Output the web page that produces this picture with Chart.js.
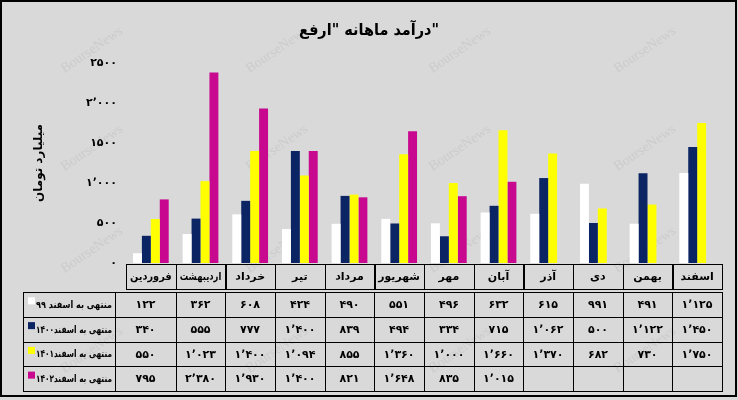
<!DOCTYPE html>
<html>
<head>
<meta charset="utf-8">
<script src="https://cdn.jsdelivr.net/npm/chart.js@4.4.0/dist/chart.umd.min.js"></script>
<style>
body { margin: 0; background: #fff; }
#wrap { width: 738px; height: 400px; }
</style>
</head>
<body>
<div id="wrap"><canvas id="chart1" width="738" height="400"></canvas></div>
<script>
// chart data
const months = ['فروردین', 'اردیبهشت', 'خرداد', 'تیر', 'مرداد', 'شهریور', 'مهر', 'آبان', 'آذر', 'دی', 'بهمن', 'اسفند'];
const seriesNames = ['منتهی به اسفند ۹۹', 'منتهی به اسفند۱۴۰۰', 'منتهی به اسفند۱۴۰۱', 'منتهی به اسفند۱۴۰۲'];
const fy99 = [122, 362, 608, 424, 490, 551, 496, 632, 615, 991, 491, 1125];
const fy1400 = [340, 555, 777, 1400, 839, 494, 334, 715, 1062, 500, 1122, 1450];
const fy1401 = [550, 1023, 1400, 1094, 855, 1360, 1000, 1660, 1370, 682, 730, 1750];
const fy1402 = [795, 2380, 1930, 1400, 821, 1648, 835, 1015, null, null, null, null];
const yTicks = ['۰', '۵۰۰', '۱٬۰۰۰', '۱۵۰۰', '۲٬۰۰۰', '۲۵۰۰'];
const chartTitle = 'درآمد ماهانه "ارفع"';
const yTitle = 'میلیارد تومان';

const series = [fy99, fy1400, fy1401, fy1402];
const barColors = ['#ffffff', '#0b2464', '#ffff00', '#c8088f'];
const FONT = '"DejaVu Sans", sans-serif';

// persian digits + thousands separator
function faNum(v) {
  let s = String(v);
  if (v >= 1000) s = s.slice(0, s.length - 3) + '٬' + s.slice(-3);
  return s.replace(/[0-9]/g, d => '۰۱۲۳۴۵۶۷۸۹'[d]);
}

// background, watermarks, title and the data table
const tablePlugin = {
  id: 'tablePlugin',
  beforeDraw(chart) {
    const c = chart.ctx;
    c.save();
    c.fillStyle = '#d9d9d9';
    c.fillRect(0, 0, chart.width, chart.height);
    c.font = '14px "Liberation Serif", serif';
    c.fillStyle = 'rgba(200,200,200,0.8)';
    c.textAlign = 'center';
    c.textBaseline = 'middle';
    [92, 277, 460, 645].forEach(wx => {
      [50, 148, 250, 350].forEach(wy => {
        c.save();
        c.translate(wx, wy);
        c.rotate(-0.6);
        c.fillText('BourseNews', 0, 0);
        c.restore();
      });
    });
    c.restore();
  },
  afterDraw(chart) {
    const c = chart.ctx;
    const x = chart.scales.x;
    const area = chart.chartArea;
    const colW = (area.right - area.left) / months.length;
    c.save();

    // title
    c.fillStyle = '#000';
    c.font = 'bold 16px ' + FONT;
    c.textAlign = 'center';
    c.textBaseline = 'middle';
    c.fillText(chartTitle, 369, 31, 140);

    // month row
    c.strokeStyle = '#000';
    c.lineWidth = 1;
    c.font = 'bold 11px ' + FONT;
    const catTop = 264, catH = 25;
    months.forEach((m, i) => {
      const cx = x.getPixelForValue(i);
      c.strokeRect(Math.round(cx - colW / 2) + 0.5, catTop + 0.5, Math.round(colW), catH);
      c.fillText(m, cx, catTop + catH / 2 + 1, colW - 8);
    });

    // value table
    const tLeft = 23, legRight = 115, tTop = 292, rowH = 24.75;
    const tBottom = tTop + rowH * series.length;
    const edges = [legRight];
    for (let i = 0; i < months.length - 1; i++) edges.push(Math.round(x.getPixelForValue(i) + colW / 2));
    edges.push(Math.round(area.right));
    c.strokeRect(tLeft + 0.5, tTop + 0.5, edges[edges.length - 1] - tLeft, tBottom - tTop);
    c.beginPath();
    for (let r = 1; r < series.length; r++) {
      const y = Math.round(tTop + r * rowH) + 0.5;
      c.moveTo(tLeft, y); c.lineTo(edges[edges.length - 1], y);
    }
    edges.slice(0, -1).forEach(ex => { c.moveTo(ex + 0.5, tTop); c.lineTo(ex + 0.5, tBottom); });
    c.stroke();

    series.forEach((vals, r) => {
      const cy = tTop + r * rowH + rowH / 2 + 1;
      // legend cell
      c.font = 'bold 10px ' + FONT;
      c.textAlign = 'right';
      c.fillStyle = '#000';
      const lw = Math.min(c.measureText(seriesNames[r]).width, 76);
      c.fillText(seriesNames[r], legRight - 3, cy, 76);
      c.fillStyle = barColors[r];
      c.fillRect(legRight - 3 - lw - 8, cy - 8, 7, 7);
      // values
      c.font = 'bold 11px ' + FONT;
      c.textAlign = 'center';
      c.fillStyle = '#000';
      vals.forEach((v, i) => {
        if (v === null) return;
        c.fillText(faNum(v), (edges[i] + edges[i + 1]) / 2, cy);
      });
    });

    // outer frame
    c.lineWidth = 2;
    c.strokeRect(1, 1, 735, 395);
    c.restore();
  }
};

new Chart(document.getElementById('chart1'), {
  type: 'bar',
  data: {
    labels: months,
    datasets: series.map((vals, i) => ({
      label: seriesNames[i],
      data: vals,
      backgroundColor: barColors[i],
      borderWidth: 0,
      categoryPercentage: 0.72,
      barPercentage: 1.0
    }))
  },
  options: {
    responsive: false,
    animation: false,
    devicePixelRatio: 1,
    layout: { padding: { left: 28, right: 16, top: 63, bottom: 137 } },
    plugins: { legend: { display: false }, tooltip: { enabled: false } },
    scales: {
      x: { display: false },
      y: {
        min: 0,
        max: 2500,
        grid: { display: false, drawTicks: false },
        border: { display: false },
        ticks: {
          stepSize: 500,
          padding: 9,
          color: '#000',
          font: { family: FONT, size: 11, weight: 'bold' },
          callback: (v, idx) => yTicks[idx]
        },
        title: {
          display: true,
          text: yTitle,
          color: '#000',
          font: { family: FONT, size: 12, weight: 'bold' }
        },
        afterFit(scale) { scale.width = 98; }
      }
    }
  },
  plugins: [tablePlugin]
});
</script>
</body>
</html>
